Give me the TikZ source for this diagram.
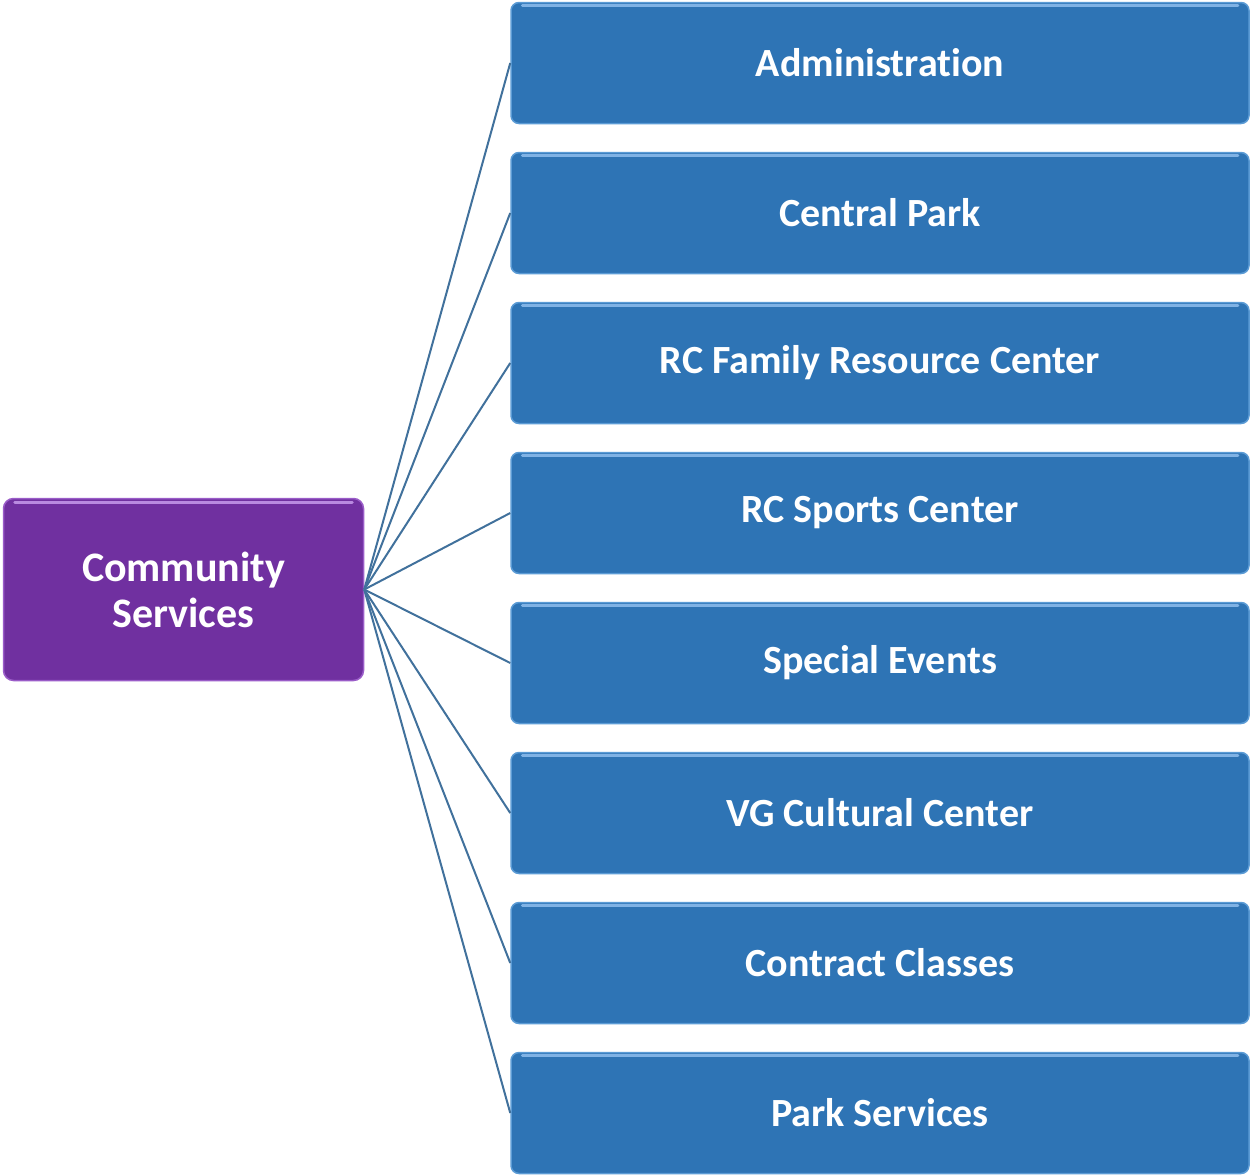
\documentclass[tikz,border=0pt]{standalone}
\usepackage{fontspec}
\setmainfont{Carlito}[Ligatures=NoCommon]
\definecolor{boxblue}{HTML}{2E74B5}
\definecolor{boxrim}{HTML}{5B9BD5}
\definecolor{boxhi}{HTML}{7FB2E5}
\definecolor{rootpurple}{HTML}{7030A0}
\definecolor{rootrim}{HTML}{9A5CC8}
\definecolor{roothi}{HTML}{B98AE0}
\definecolor{linkblue}{HTML}{41719C}
\begin{document}
\begin{tikzpicture}[x=1pt,y=-1pt,
  unit/.style={draw=boxrim,line width=1.5pt,fill=boxblue,rounded corners=8pt,
    minimum width=738pt,minimum height=121pt,inner sep=0pt,
    text=white,font=\bfseries\fontsize{40}{48}\selectfont},
  rootbox/.style={draw=rootrim,line width=1.5pt,fill=rootpurple,rounded corners=10pt,
    minimum width=360pt,minimum height=182pt,inner sep=0pt,align=center,
    text=white,font=\bfseries\fontsize{42}{46}\selectfont},
  link/.style={draw=linkblue,line width=2pt}]
\useasboundingbox (0,0) rectangle (1250,1175);
\node[rootbox] (root) at (183.5,589.5) {Community\\Services};
\draw[roothi,line width=3pt,line cap=round] ([xshift=12pt,yshift=-5pt]root.north west) -- ([xshift=-12pt,yshift=-5pt]root.north east);
\foreach \t [count=\i from 0] in {Administration,Central Park,RC Family Resource Center,RC Sports Center,Special Events,VG Cultural Center,Contract Classes,Park Services}{
  \node[unit] (b\i) at (880,{63+150*\i}) {\t};
  \draw[boxhi,line width=3pt,line cap=round] ([xshift=12pt,yshift=-4pt]b\i.north west) -- ([xshift=-12pt,yshift=-4pt]b\i.north east);
  \draw[link] (root.east) -- (b\i.west);
}
\end{tikzpicture}
\end{document}
